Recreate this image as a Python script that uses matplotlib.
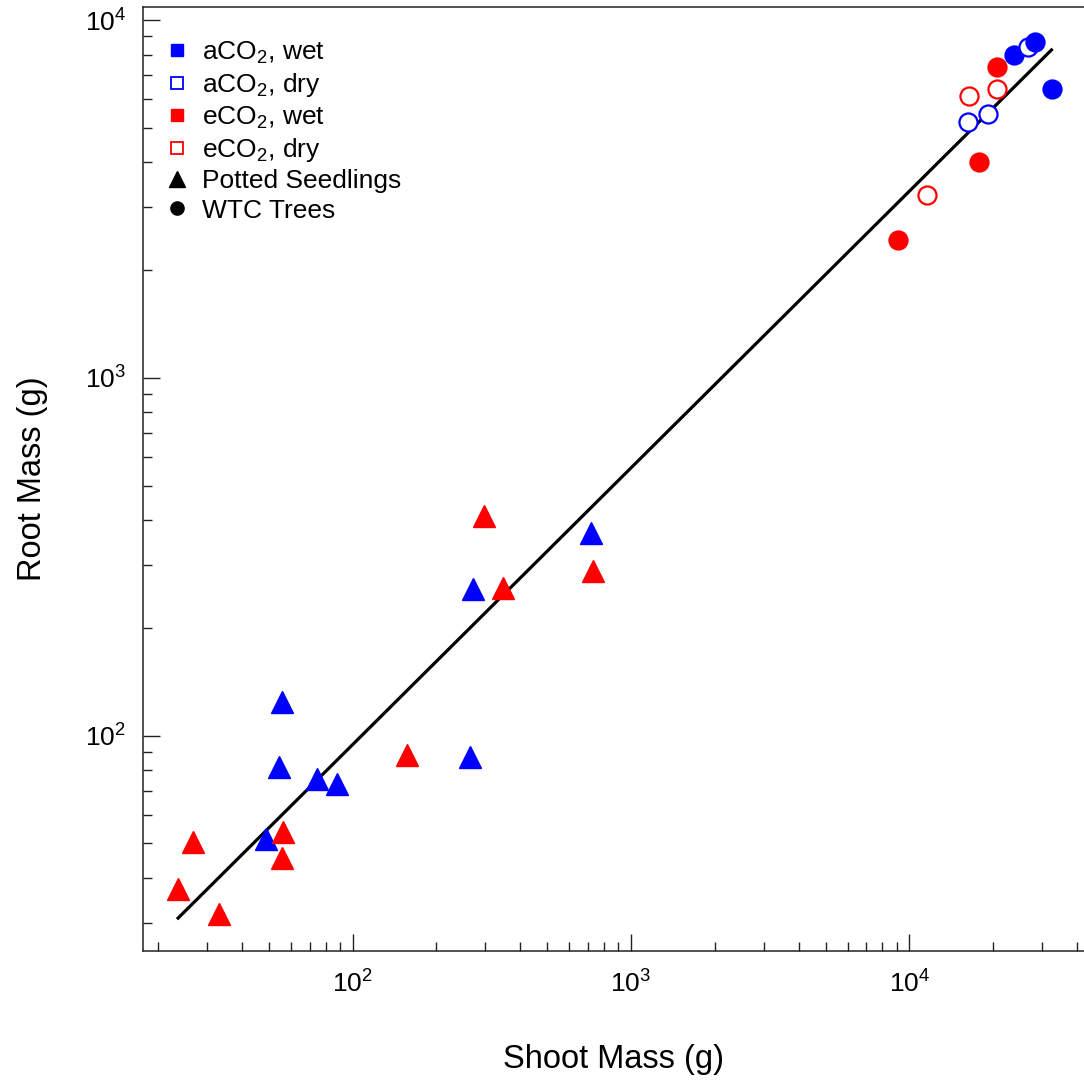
import matplotlib
matplotlib.use("Agg")
import matplotlib.pyplot as plt
from matplotlib.lines import Line2D

plt.rcParams["font.family"] = ["Liberation Sans", "DejaVu Sans"]

BLUE = "#0000FF"
RED = "#FF0000"

# potted seedlings (all wet), shoot vs root mass (g)
seed_a_x = [55.6, 54.5, 74.6, 88.0, 48.8, 263.7, 269.8, 721]
seed_a_y = [123.9, 81.6, 75.7, 73.3, 51.5, 87.0, 256.7, 367.9]
seed_e_x = [56.1, 55.8, 26.6, 23.5, 33.0, 156.2, 296.9, 345.6, 731]
seed_e_y = [53.7, 45.6, 50.4, 37.2, 31.8, 88.3, 409.6, 257.9, 288.7]

# WTC trees, drawing order kept; wet = 1 filled, 0 open
tree_a_x = [16230, 19150, 23750, 26660, 28180, 32510]
tree_a_y = [5201, 5455, 7987, 8424, 8696, 6418]
tree_a_wet = [0, 0, 1, 0, 1, 1]
tree_e_x = [9100, 11570, 16330, 17780, 20630, 20700]
tree_e_y = [2432, 3247, 6137, 4009, 6406, 7410]
tree_e_wet = [1, 0, 0, 1, 0, 1]

# fitted line endpoints
fit_x = [23.6, 32400]
fit_y = [30.9, 8250]

fig = plt.figure(figsize=(10.84, 10.85), dpi=100)
ax = fig.add_axes([0.1316, 0.1235, 0.8684, 0.87])

ax.plot(fit_x, fit_y, color="black", lw=2.3, zorder=2)

ax.plot(seed_a_x, seed_a_y, "^", ms=16, color=BLUE, mec=BLUE, mew=1, ls="none", zorder=3)
ax.plot(seed_e_x, seed_e_y, "^", ms=16, color=RED, mec=RED, mew=1, ls="none", zorder=3)

for xs, ys, ws, c in [(tree_a_x, tree_a_y, tree_a_wet, BLUE), (tree_e_x, tree_e_y, tree_e_wet, RED)]:
    for x, y, w in zip(xs, ys, ws):
        ax.plot([x], [y], "o", ms=13, mec=c, mew=1.6,
                mfc=c if w else "white", ls="none", zorder=3)

ax.set_xscale("log")
ax.set_yscale("log")
ax.set_xlim(17.6, 42400)
ax.set_ylim(25.0, 10870)

ax.spines["right"].set_visible(False)
for s in ["left", "bottom", "top"]:
    ax.spines[s].set_linewidth(1.1)
    ax.spines[s].set_color("#222222")

ax.tick_params(which="both", direction="in", top=False, right=False, colors="#222222")
ax.tick_params(which="major", length=12, width=1.0, pad=12, labelsize=19)
ax.tick_params(which="minor", length=6.5, width=1.0)
ax.tick_params(axis="x", which="major", pad=14)
for lab in ax.get_xticklabels() + ax.get_yticklabels():
    lab.set_color("black")

ax.set_xlabel("Shoot Mass (g)", fontsize=23.5, va="top")
ax.set_ylabel("Root Mass (g)", fontsize=23.5)
ax.xaxis.set_label_coords(0.5, -0.0985)
ax.yaxis.set_label_coords(-0.1003, 0.5)

handles = [
    Line2D([], [], marker="s", ls="none", ms=9, color=BLUE, mec=BLUE),
    Line2D([], [], marker="s", ls="none", ms=8, mfc="white", mec=BLUE, mew=1.3),
    Line2D([], [], marker="s", ls="none", ms=9, color=RED, mec=RED),
    Line2D([], [], marker="s", ls="none", ms=8, mfc="white", mec=RED, mew=1.3),
    Line2D([], [], marker="^", ls="none", ms=12, color="black"),
    Line2D([], [], marker="o", ls="none", ms=9.5, color="black"),
]
labels = [
    r"aCO$_{\mathdefault{2}}$, wet",
    r"aCO$_{\mathdefault{2}}$, dry",
    r"eCO$_{\mathdefault{2}}$, wet",
    r"eCO$_{\mathdefault{2}}$, dry",
    "Potted Seedlings",
    "WTC Trees",
]
ax.legend(handles, labels, loc="upper left", bbox_to_anchor=(0.022, 0.966),
          frameon=False, fontsize=19, handlelength=1.0, handletextpad=0.45,
          borderaxespad=0, borderpad=0, labelspacing=0.2)

fig.savefig("out.png", dpi=100)
